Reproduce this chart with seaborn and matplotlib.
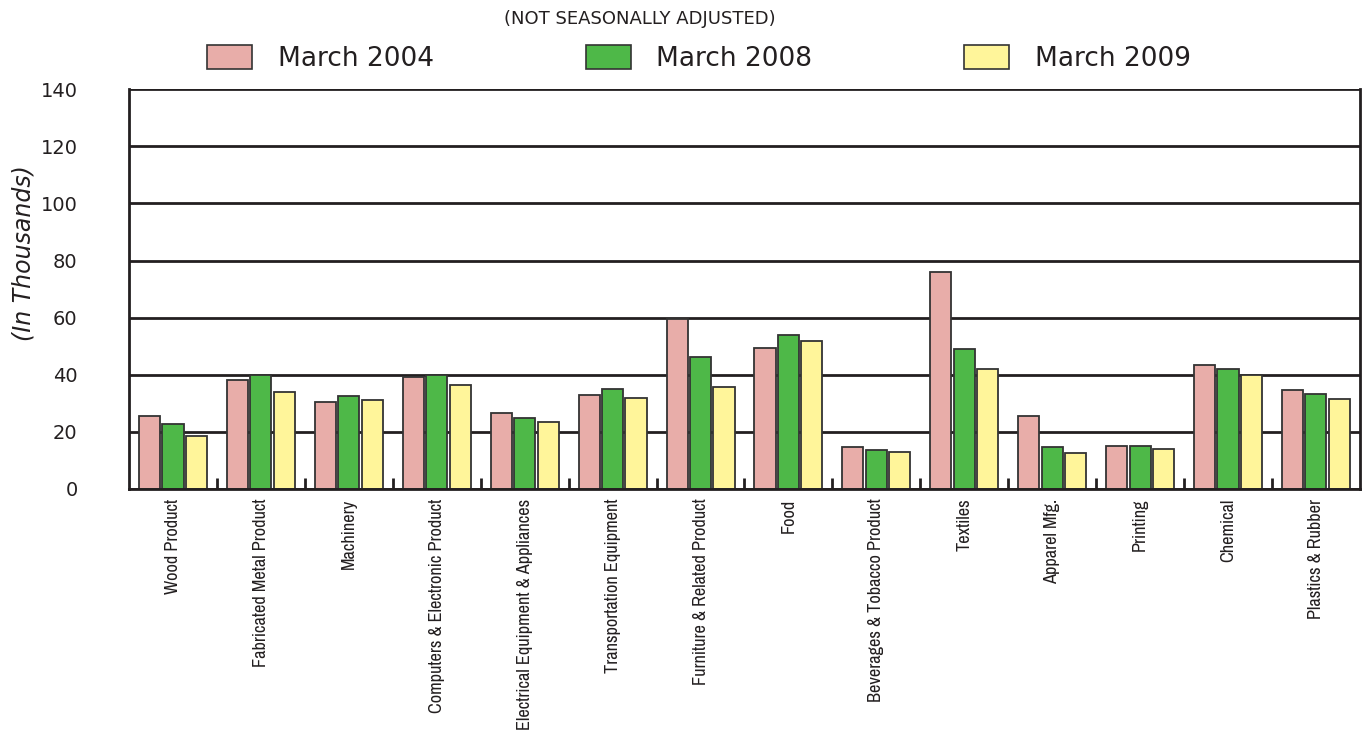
import pandas as pd
import seaborn as sns
import matplotlib.pyplot as plt
from matplotlib.patches import Patch
from matplotlib import font_manager

# 데이터
industries = ["Wood Product", "Fabricated Metal Product", "Machinery",
              "Computers & Electronic Product", "Electrical Equipment & Appliances",
              "Transportation Equipment", "Furniture & Related Product", "Food",
              "Beverages & Tobacco Product", "Textiles", "Apparel Mfg.", "Printing",
              "Chemical", "Plastics & Rubber"]
mar_2004 = [25.5, 38.2, 30.5, 39.2, 26.6, 33.0, 59.5, 49.5, 14.7, 76.0, 25.5, 15.2, 43.3, 34.5]
mar_2008 = [22.7, 40.0, 32.5, 40.0, 25.0, 35.1, 46.3, 53.8, 13.5, 48.9, 14.8, 14.9, 41.9, 33.4]
mar_2009 = [18.5, 34.0, 31.2, 36.4, 23.4, 32.0, 35.6, 51.8, 12.8, 41.9, 12.5, 14.0, 40.0, 31.6]
series = ["March 2004", "March 2008", "March 2009"]
colors = ["#E8ADA9", "#4EB848", "#FFF59A"]

df = pd.DataFrame({"industry": industries * 3,
                   "value": mar_2004 + mar_2008 + mar_2009,
                   "series": [s for s in series for _ in industries]})

sns.set_style("white")
plt.rcParams["font.family"] = ["DejaVu Sans"]

# 좁은 글꼴이 있으면 x 라벨에 사용
names = sorted({f.name for f in font_manager.fontManager.ttflist})
narrow = [n for n in names if "Narrow" in n or "Condensed" in n]
if narrow:
    xfont, xsize = narrow[0], 13.2
else:
    xfont, xsize = "Lato", 10.5

fig = plt.figure(figsize=(13.64, 7.32), dpi=100)
ax = fig.add_axes([0.0946, 0.332, 0.9024, 0.546])

sns.barplot(data=df, x="industry", y="value", hue="series", palette=colors,
            saturation=1, width=0.8, gap=0.1, edgecolor="#333333", linewidth=1.3,
            ax=ax, legend=False)

ax.set_ylim(0, 140)
ax.set_xlim(-0.5, len(industries) - 0.5)
ax.set_yticks(range(0, 141, 20))
ax.yaxis.grid(True, color="#231f20", linewidth=2)
ax.set_axisbelow(True)
for s in ["left", "right", "bottom"]:
    ax.spines[s].set_color("#231f20")
    ax.spines[s].set_linewidth(2)
ax.spines["top"].set_visible(False)

# 그룹 사이 작은 눈금
ax.set_xticks([i + 0.5 for i in range(len(industries) - 1)], minor=True)
ax.tick_params(axis="x", which="minor", direction="in", length=8, width=2,
               color="#231f20", bottom=True)
ax.tick_params(axis="x", which="major", length=0, pad=7)
ax.set_xticks(range(len(industries)))
ax.set_xticklabels(industries, rotation=90, fontsize=xsize, family=xfont,
                   color="#231f20", va="top")
ax.tick_params(axis="y", length=0, pad=37, labelsize=14, labelcolor="#231f20")
ax.set_xlabel("")
ax.set_ylabel("(In Thousands)", fontsize=17, style="italic", color="#231f20")
ax.yaxis.set_label_coords(-0.076, 0.59)

handles = [Patch(facecolor=c, edgecolor="#333333", linewidth=1.2) for c in colors]
fig.legend(handles, series, loc="center left", bbox_to_anchor=(0.1518, 0.920),
           ncol=3, frameon=False, fontsize=19, handlelength=1.7, handleheight=1.0,
           columnspacing=5.76, handletextpad=0.98, borderpad=0, borderaxespad=0,
           labelcolor="#231f20")
fig.text(0.469, 0.974, "(NOT SEASONALLY ADJUSTED)", ha="center", va="center",
         fontsize=13, color="#231f20")

fig.savefig("out.png", dpi=100)
